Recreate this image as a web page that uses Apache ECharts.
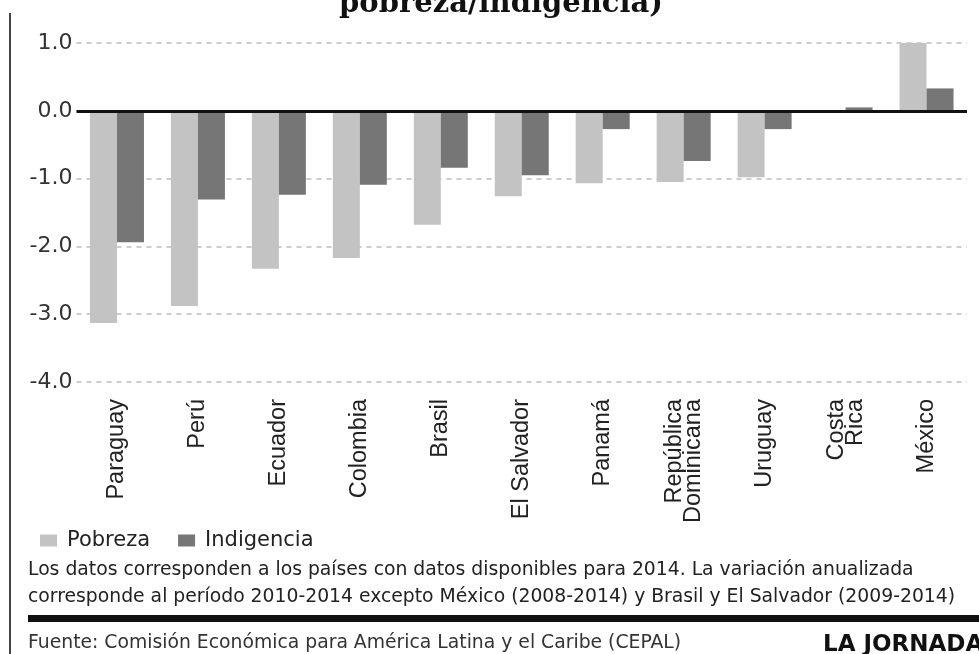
<!DOCTYPE html>
<html>
<head>
<meta charset="utf-8">
<title>Variación anualizada pobreza/indigencia</title>
<script src="https://cdn.jsdelivr.net/npm/echarts@6/dist/echarts.min.js"></script>
<style>
    html, body {
        margin: 0;
        padding: 0;
        background: #fff;
    }
    #main {
        width: 979px;
        height: 654px;
    }
</style>
</head>
<body>
<div id="main"></div>
<script>
// paises (orden del grafico)
const paises = ['Paraguay', 'Perú', 'Ecuador', 'Colombia', 'Brasil', 'El Salvador',
    'Panamá', 'República\nDominicana', 'Uruguay', 'Costa\nRica', 'México']
// variacion anualizada, puntos porcentuales
const pobreza = [-3.13, -2.88, -2.33, -2.17, -1.68, -1.26, -1.07, -1.05, -0.98, 0, 1.02]
const indigencia = [-1.94, -1.31, -1.24, -1.09, -0.84, -0.95, -0.27, -0.74, -0.27, 0.05, 0.33]
const ejeY = { min: -4, max: 1, paso: 1 }

const notaLinea1 = 'Los datos corresponden a los países con datos disponibles para 2014. La variación anualizada'
const notaLinea2 = 'corresponde al período 2010-2014 excepto México (2008-2014) y Brasil y El Salvador (2009-2014)'
const fuente = 'Fuente: Comisión Económica para América Latina y el Caribe (CEPAL)'

let chart = echarts.init(document.getElementById('main'))
chart.setOption({
    backgroundColor: '#fff',
    animation: false,
    color: ['#c3c3c3', '#767676'],
    legend: {
        left: 35,
        top: 525,
        icon: 'rect',
        itemWidth: 17,
        itemHeight: 12,
        itemGap: 28,
        textStyle: {
            fontFamily: 'DejaVu Sans',
            fontSize: 21,
            color: '#222',
            padding: [0, 0, 0, 5],
        },
        data: ['Pobreza', 'Indigencia'],
    },
    grid: {
        left: 76.5,
        right: 12,
        top: 43,
        bottom: 272,
    },
    xAxis: {
        type: 'category',
        data: paises,
        axisLine: { show: false },
        axisTick: { show: false },
        axisLabel: {
            interval: 0,
            rotate: 90,
            margin: 17,
            fontFamily: 'Liberation Sans',
            fontSize: 23.5,
            lineHeight: 19,
            color: '#222',
        },
    },
    yAxis: {
        type: 'value',
        min: ejeY.min,
        max: ejeY.max,
        interval: ejeY.paso,
        axisLine: { show: false },
        axisTick: { show: false },
        axisLabel: {
            margin: 4,
            fontFamily: 'DejaVu Sans',
            fontSize: 22,
            color: '#333',
            formatter: function (v) {
                return v.toFixed(1)
            },
        },
        splitLine: {
            lineStyle: {
                color: '#bdbdbd',
                width: 1.5,
                type: [5, 5],
            },
        },
    },
    series: [
        {
            name: 'Pobreza',
            type: 'bar',
            barWidth: 27,
            barGap: '0%',
            data: pobreza,
        },
        {
            name: 'Indigencia',
            type: 'bar',
            barWidth: 27,
            barGap: '0%',
            data: indigencia,
            markLine: {
                silent: true,
                symbol: 'none',
                label: { show: false },
                lineStyle: { color: '#111', width: 3, type: 'solid' },
                data: [{ yAxis: 0 }],
            },
        },
    ],
    graphic: [
        {
            type: 'text',
            x: 501,
            y: 4,
            style: {
                text: 'pobreza/indigencia)',
                font: 'bold 29px "DejaVu Serif"',
                fill: '#111',
                align: 'center',
                verticalAlign: 'middle',
            },
        },
        {
            type: 'line',
            shape: { x1: 10, y1: 13, x2: 10, y2: 654 },
            style: { stroke: '#444', lineWidth: 2 },
        },
        {
            type: 'text',
            x: 28,
            y: 570,
            style: {
                text: notaLinea1,
                font: '18.8px "DejaVu Sans"',
                fill: '#222',
                verticalAlign: 'middle',
            },
        },
        {
            type: 'text',
            x: 28,
            y: 597,
            style: {
                text: notaLinea2,
                font: '18.8px "DejaVu Sans"',
                fill: '#222',
                verticalAlign: 'middle',
            },
        },
        {
            type: 'rect',
            shape: { x: 28, y: 615, width: 951, height: 7 },
            style: { fill: '#111' },
        },
        {
            type: 'text',
            x: 28,
            y: 643,
            style: {
                text: fuente,
                font: '18.8px "DejaVu Sans"',
                fill: '#333',
                verticalAlign: 'middle',
            },
        },
        {
            type: 'text',
            x: 823,
            y: 645,
            style: {
                text: 'LA JORNADA',
                font: 'bold 23px "DejaVu Sans"',
                fill: '#111',
                verticalAlign: 'middle',
            },
        },
    ],
})
</script>
</body>
</html>
